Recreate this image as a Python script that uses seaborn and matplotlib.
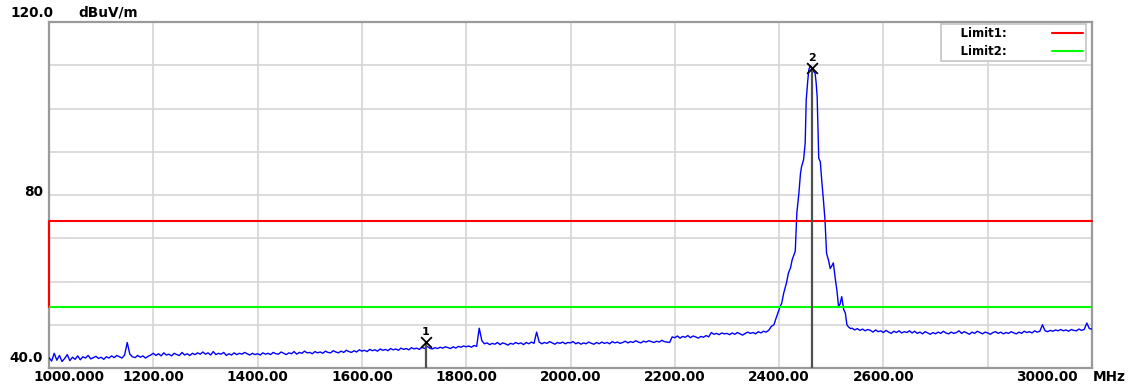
import numpy as np
import pandas as pd
import matplotlib
matplotlib.use("Agg")
import matplotlib.pyplot as plt
import matplotlib.transforms as mtransforms
import seaborn as sns

# ---------------------------------------------------------------------------
# Measured field strength (dBuV/m) versus frequency (MHz)
# ---------------------------------------------------------------------------
# Noise floor below the carrier, 5 MHz steps from 1000 to 2380 MHz
floor_low_start, floor_low_stop, floor_step = 1000, 2380, 5
floor_low_level = [
    42.4, 41.6, 43.4, 41.8, 42.9, 41.5, 42.2, 43.1, 41.7, 42.5, 42.0, 42.8, 41.9, 42.6, 42.3, 42.9, 42.1, 42.4, 42.7, 42.2,
    42.5, 42.0, 42.6, 42.3, 42.8, 42.4, 42.9, 42.6, 42.3, 43.0, 45.9, 43.2, 42.6, 42.4, 42.9, 42.5, 42.8, 42.3, 42.7, 43.0,
    43.4, 42.9, 43.3, 42.8, 43.5, 43.0, 43.2, 42.8, 43.4, 43.1, 42.9, 43.6, 43.0, 43.3, 42.9, 43.4, 43.1, 43.5, 43.2, 43.7,
    43.2, 43.5, 43.0, 43.8, 43.1, 43.4, 43.2, 43.6, 42.9, 43.3, 43.0, 43.5, 43.1, 43.4, 43.2, 43.6, 43.3, 43.0, 43.4, 43.1,
    43.3, 43.0, 43.5, 43.2, 43.4, 43.1, 43.6, 43.3, 43.2, 43.7, 43.4, 43.1, 43.5, 43.3, 43.8, 43.2, 43.6, 43.4, 43.9, 43.5,
    43.6, 43.3, 43.8, 43.5, 43.7, 43.4, 43.9, 43.6, 43.5, 44.0, 43.7, 43.5, 43.9, 43.6, 44.1, 43.8, 43.6, 44.0, 43.7, 44.2,
    43.9, 44.1, 43.8, 44.3, 44.0, 44.2, 43.9, 44.4, 44.1, 44.3, 44.0, 44.5, 44.2, 44.4, 44.1, 44.6, 44.3, 44.5, 44.2, 44.7,
    44.4, 44.6, 44.3, 44.8, 44.5, 45.0, 44.6, 44.4, 44.7, 44.5, 44.8, 44.6, 44.9, 44.7, 44.5, 44.9, 44.6, 45.0, 44.8, 45.1,
    44.9, 45.1, 44.8, 45.2, 45.0, 49.2, 46.3, 45.6, 45.8, 45.4, 45.7, 45.5, 45.9, 45.4, 45.8, 45.6, 45.3, 45.7, 45.5, 45.9,
    45.6, 45.8, 45.4, 45.9, 45.6, 46.0, 45.7, 48.3, 46.0, 45.6, 45.9, 45.7, 46.1, 45.8, 45.5, 45.9, 45.7, 46.0, 45.6, 45.9,
    45.8, 46.1, 45.6, 45.9, 45.5, 45.8, 45.6, 46.0, 45.7, 45.5, 45.9, 45.6, 46.0, 45.7, 45.9, 45.6, 46.1, 45.8, 46.0, 45.7,
    45.9, 46.2, 45.8, 46.1, 45.9, 46.3, 46.0, 45.8, 46.2, 46.0, 46.3, 46.1, 45.9, 46.2, 46.0, 46.4, 46.1, 46.0, 45.9, 47.2,
    47.0, 47.4, 46.9, 47.3, 47.1, 47.5, 47.0, 47.4, 47.2, 46.9, 47.3, 47.1, 47.5, 47.2, 48.2, 47.8, 48.0, 47.7, 48.1, 47.9,
    48.0, 47.7, 48.1, 47.8, 48.2, 47.9, 47.6, 48.0, 48.3, 48.0, 48.2, 47.9, 48.4, 48.1, 48.5, 48.3, 48.7,
]

# Carrier around 2.46 GHz
carrier_freq = [
    2385, 2390, 2395, 2402, 2405, 2409, 2414, 2418, 2422, 2425, 2431, 2434, 2438, 2441, 2443,
    2447, 2450, 2452, 2455, 2457, 2460, 2463, 2465, 2469, 2471, 2473, 2476, 2479, 2482, 2485,
    2488, 2491, 2495, 2498, 2501, 2504, 2508, 2511, 2514, 2517, 2520, 2524, 2527, 2530, 2533, 2537,
]
carrier_level = [
    49.6, 50.0, 51.8, 54.2, 55.0, 57.4, 59.6, 62.0, 63.2, 65.0, 67.0, 75.8, 80.5, 85.0, 86.5,
    88.2, 92.0, 102.0, 106.5, 109.0, 109.9, 109.3, 108.7, 108.2, 106.0, 102.7, 88.5, 87.7, 83.0, 78.8,
    74.2, 66.5, 64.8, 63.0, 63.6, 64.3, 60.4, 57.8, 54.2, 54.8, 56.5, 53.5, 52.7, 50.0, 49.5, 49.1,
]

# Noise floor above the carrier, 5 MHz steps from 2540 to 3000 MHz
floor_high_start, floor_high_stop = 2540, 3000
floor_high_level = [
    49.2, 48.8, 49.1, 48.7, 49.0, 48.6, 48.9, 48.7, 48.3, 48.8, 48.4, 48.6, 48.2, 48.7, 48.3, 48.0, 48.5, 48.2, 48.6, 48.1,
    48.4, 48.2, 48.6, 48.1, 48.5, 48.0, 48.3, 47.9, 48.4, 48.1, 47.8, 48.2, 47.9, 48.3, 48.0, 48.5, 48.1, 47.9, 48.3, 48.0,
    48.2, 48.6, 48.0, 48.4, 48.1, 47.8, 48.3, 48.0, 48.5, 48.2, 47.9, 48.3, 48.1, 47.8, 48.2, 48.4, 48.0, 48.3, 47.9, 48.2,
    48.0, 48.4, 48.1, 47.9, 48.3, 48.0, 48.5, 48.2, 48.4, 48.1, 48.6, 48.3, 48.5, 50.0, 48.6, 48.4, 48.7, 48.5, 48.8, 48.6,
    48.9, 48.6, 48.8, 48.5, 48.9, 48.7, 48.6, 49.0, 48.7, 48.9, 50.4, 49.1, 49.0,
]

# Limit lines
limit1_freq = [1000, 1000, 3000]
limit1_level = [54, 74, 74]
limit2_freq = [1000, 3000]
limit2_level = [54, 54]
limit_names = ["Limit1:", "Limit2:"]

# Markers
marker_names = ["1", "2"]
marker_freq = [1722, 2464]
marker_level = [46.0, 109.4]

# Axis
x_min, x_max = 1000, 3000
y_min, y_max = 40, 120
x_grid = [1200, 1400, 1600, 1800, 2000, 2200, 2400, 2600, 2800]
x_tick_text = ["1200.00", "1400.00", "1600.00", "1800.00", "2000.00", "2200.00", "2400.00", "2600.00", ""]
y_grid = [40, 50, 60, 70, 80, 90, 100, 110, 120]
unit_x = "MHz"
unit_y = "dBuV/m"

# ---------------------------------------------------------------------------
trace = pd.DataFrame({
    "freq": np.concatenate([
        np.arange(floor_low_start, floor_low_stop + 1, floor_step),
        carrier_freq,
        np.arange(floor_high_start, floor_high_stop + 1, floor_step),
    ]),
    "level": np.concatenate([floor_low_level, carrier_level, floor_high_level]),
})

sns.set_style("white")
plt.rcParams["font.family"] = ["DejaVu Sans"]
plt.rcParams["text.color"] = "black"
plt.rcParams["xtick.color"] = "black"
plt.rcParams["ytick.color"] = "black"

W, H = 1131, 389
fig = plt.figure(figsize=(W / 100, H / 100), dpi=100)
ax = fig.add_axes([49 / W, 21 / H, 1043 / W, 346 / H])

FS = 9.8
GRID = "#d6d6d6"

ax.set_xlim(x_min, x_max)
ax.set_ylim(y_min, y_max)
ax.set_xticks(x_grid)
ax.set_xticklabels(x_tick_text, fontsize=FS, fontweight="bold", color="black")
ax.set_yticks(y_grid)
ax.set_yticklabels([])
ax.tick_params(axis="both", length=0)
ax.tick_params(axis="x", pad=1.4)
ax.grid(True, color=GRID, lw=1.2)
ax.set_axisbelow(True)
for sp in ax.spines.values():
    sp.set_visible(True)
    sp.set_color("#9a9a9a")
    sp.set_linewidth(1.6)

# limit lines
sns.lineplot(x=limit1_freq, y=limit1_level, ax=ax, color="#ff0000", lw=1.5,
             sort=False, estimator=None, label=limit_names[0], zorder=4, clip_on=False)
sns.lineplot(x=limit2_freq, y=limit2_level, ax=ax, color="#00ff00", lw=1.5,
             sort=False, estimator=None, label=limit_names[1], zorder=4)

# measured trace
sns.lineplot(data=trace, x="freq", y="level", ax=ax, color="#0000ff", lw=1.0,
             sort=False, estimator=None, zorder=3)

# markers
ax.vlines(marker_freq, y_min, marker_level, color="#505050", lw=1.6, zorder=5)
sns.scatterplot(x=marker_freq, y=marker_level, ax=ax, marker="x", s=60,
                color="black", linewidth=1.3, zorder=6, legend=False)
for name, f, lv in zip(marker_names, marker_freq, marker_level):
    ax.annotate(name, (f, lv), xytext=(0, 3.5), textcoords="offset points",
                ha="center", va="bottom", fontsize=8, fontweight="bold", zorder=6,
                color="black")

ax.set_xlabel("")
ax.set_ylabel("")

# legend: label first, line sample on the right
handles, labels = ax.get_legend_handles_labels()
leg = ax.legend(handles, ["    " + l for l in labels], loc="upper right",
                bbox_to_anchor=(1 - 6 / 1043, 1 - 2 / 346), borderaxespad=0,
                markerfirst=False, handlelength=2.6, handletextpad=3.9,
                labelspacing=0.4, borderpad=0.25, fancybox=False,
                framealpha=1, prop={"size": 8.5, "weight": "bold"})
leg.get_frame().set_edgecolor("#c4c4c4")
leg.get_frame().set_linewidth(1.2)
for t in leg.get_texts():
    t.set_color("black")
leg.set_zorder(10)

# y-axis value labels
ytrans = mtransforms.blended_transform_factory(ax.transAxes, ax.transData)
ax.text(-6 / 1043, 40, "40.0", ha="right", va="baseline", fontsize=FS, fontweight="bold",
        transform=mtransforms.offset_copy(ytrans, fig=fig, x=0, y=6, units="dots"))
ax.text(-6 / 1043, 80, "80", ha="right", va="baseline", fontsize=FS, fontweight="bold",
        transform=mtransforms.offset_copy(ytrans, fig=fig, x=0, y=-1, units="dots"))
fig.text(10 / W, 1 - 17 / H, "120.0", ha="left", va="baseline", fontsize=FS, fontweight="bold")
fig.text(78 / W, 1 - 17 / H, unit_y, ha="left", va="baseline", fontsize=FS, fontweight="bold")

# x-axis end labels and unit
xtrans = mtransforms.blended_transform_factory(ax.transData, ax.transAxes)
ax.text(x_min, 0, "1000.000", ha="left", va="top", fontsize=FS, fontweight="bold",
        transform=mtransforms.offset_copy(xtrans, fig=fig, x=-16, y=-2, units="dots"))
ax.text(x_max, 0, "3000.00", ha="right", va="top", fontsize=FS, fontweight="bold",
        transform=mtransforms.offset_copy(xtrans, fig=fig, x=-14, y=-2, units="dots"))
ax.text(x_max, 0, unit_x, ha="left", va="top", fontsize=FS, fontweight="bold",
        transform=mtransforms.offset_copy(xtrans, fig=fig, x=1, y=-2, units="dots"))

fig.savefig("out.png", dpi=100, facecolor="white")
